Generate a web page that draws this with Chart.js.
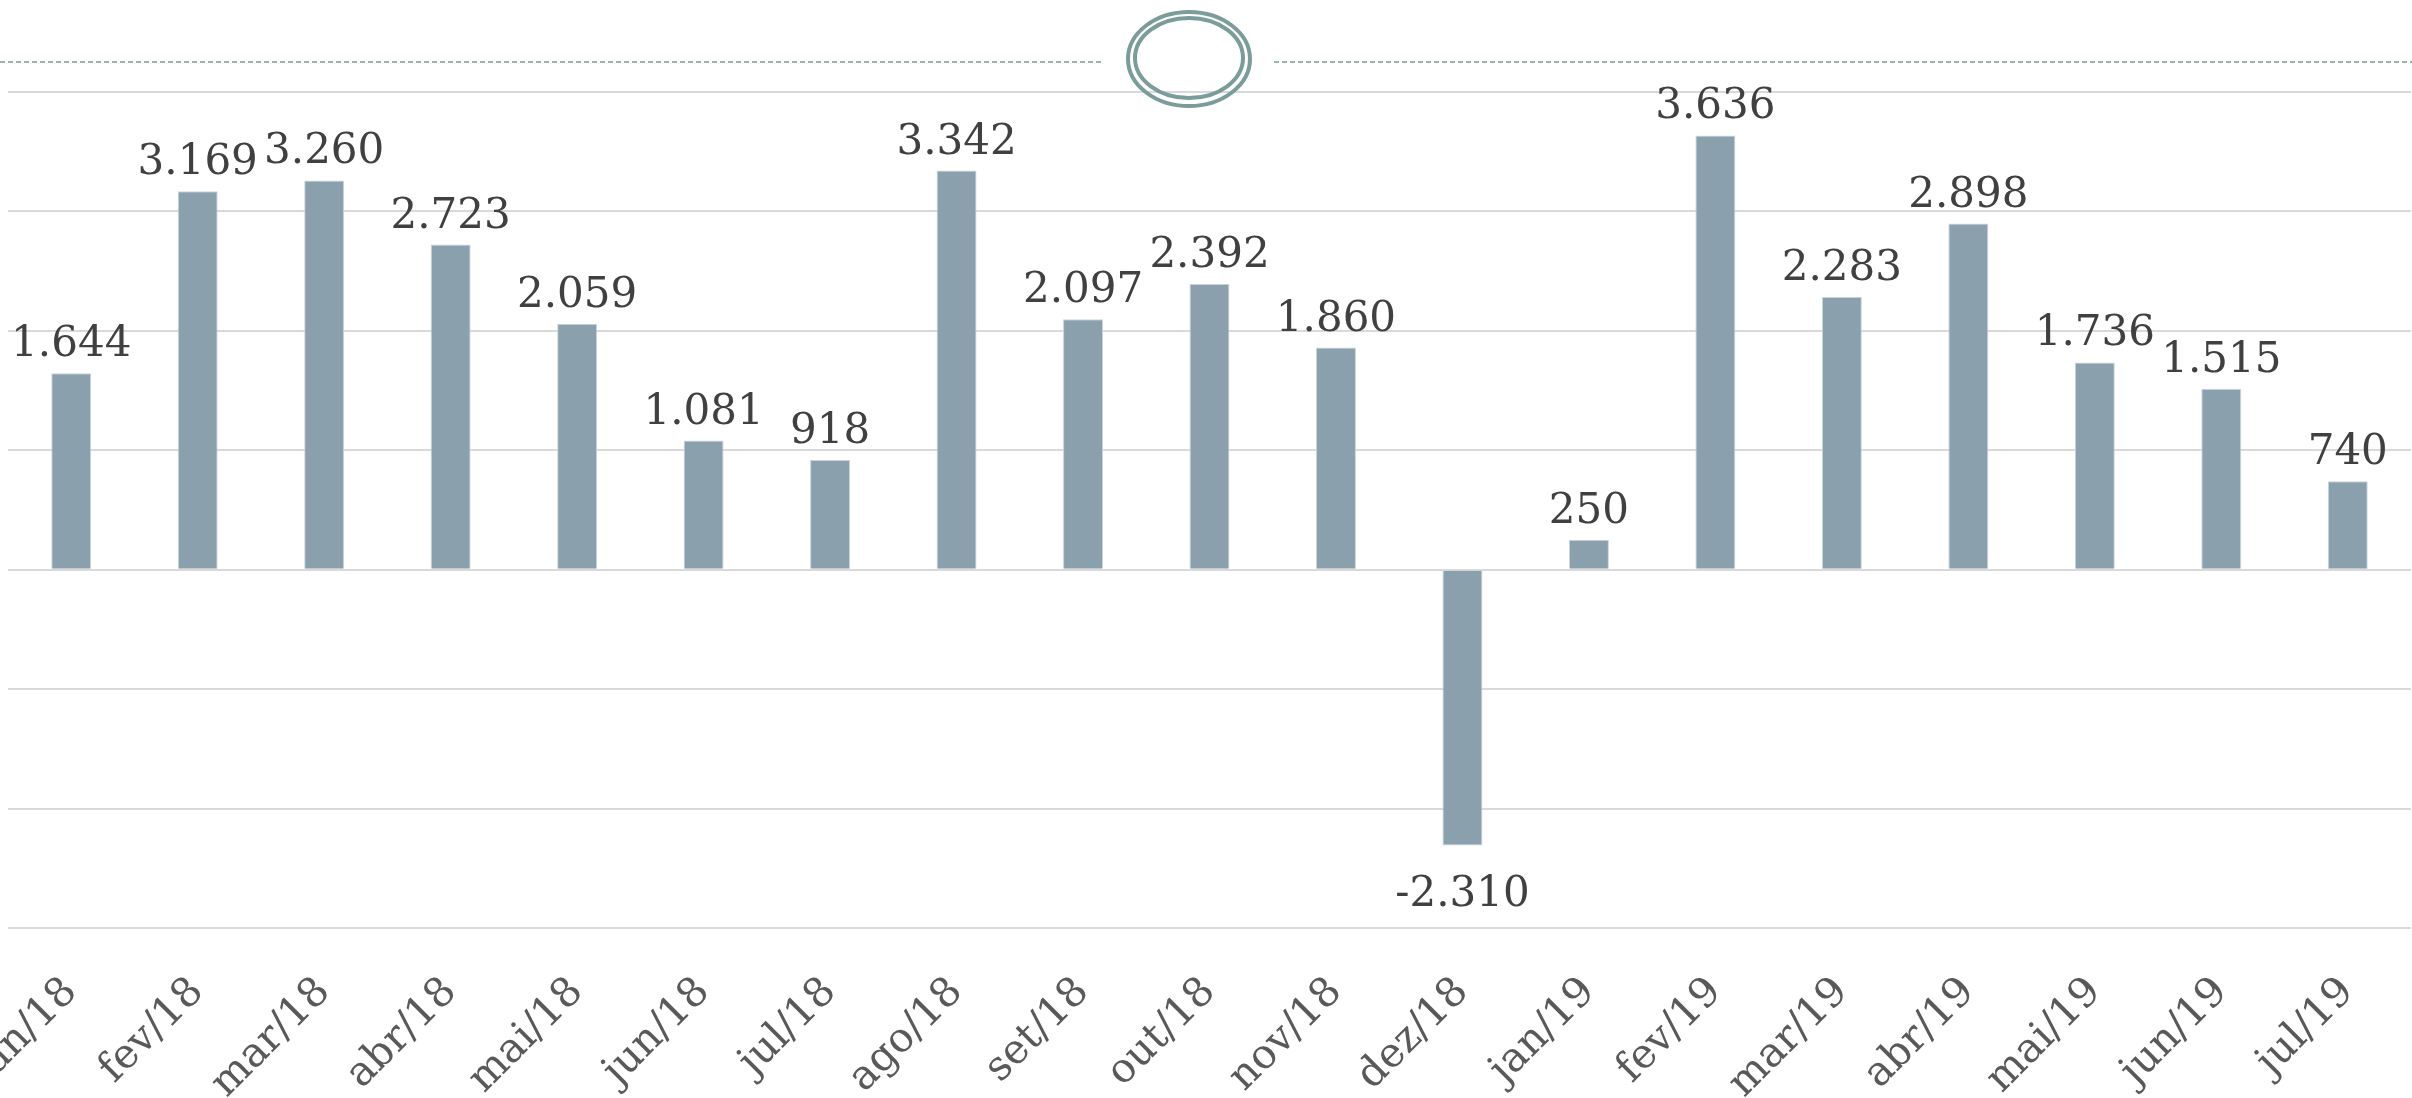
<!DOCTYPE html>
<html>
<head>
<meta charset="utf-8">
<script src="https://cdn.jsdelivr.net/npm/chart.js@4/dist/chart.umd.min.js"></script>
<style>
  html, body { margin: 0; padding: 0; background: #ffffff; }
  #wrap { width: 2412px; height: 1098px; position: relative; }
</style>
</head>
<body>
<div id="wrap"><canvas id="myChart"></canvas></div>
<script>
// months shown on the x axis
var months = ['jan/18', 'fev/18', 'mar/18', 'abr/18', 'mai/18', 'jun/18', 'jul/18', 'ago/18', 'set/18', 'out/18', 'nov/18', 'dez/18',
              'jan/19', 'fev/19', 'mar/19', 'abr/19', 'mai/19', 'jun/19', 'jul/19'];
// monthly balance
var saldo = [1644, 3169, 3260, 2723, 2059, 1081, 918, 3342, 2097, 2392, 1860, -2310,
             250, 3636, 2283, 2898, 1736, 1515, 740];
// hidden y axis range
var yMin = -3000;
var yMax = 4000;
var yStep = 1000;

var serif = "'DejaVu Serif', 'Liberation Serif', serif";

function fmt(v) {
    var s = Math.abs(v).toString().replace(/\B(?=(\d{3})+(?!\d))/g, '.');
    return (v < 0 ? '-' : '') + s;
}

// ---- value labels on top / under each bar ----
var barLabels = {
    id: 'barLabels',
    afterDatasetsDraw: function(chart) {
        var ctx = chart.ctx;
        var meta = chart.getDatasetMeta(0);
        ctx.save();
        ctx.font = '42px ' + serif;
        ctx.fillStyle = '#404040';
        ctx.textAlign = 'center';
        ctx.textBaseline = 'alphabetic';
        meta.data.forEach(function(bar, i) {
            var v = saldo[i];
            if (v >= 0) {
                ctx.fillText(fmt(v), bar.x, bar.y - 17);
            } else {
                ctx.fillText(fmt(v), bar.x, bar.y + 60);
            }
        });
        ctx.restore();
    }
};

// ---- dashed rule with the double ring at the top ----
var topOrnament = {
    id: 'topOrnament',
    afterDraw: function(chart) {
        var ctx = chart.ctx;
        var w = chart.width;
        var cx = 1189, cy = 58;
        ctx.save();
        ctx.strokeStyle = '#7a9c9a';
        ctx.lineWidth = 1.5;
        ctx.setLineDash([5, 3]);
        ctx.beginPath();
        ctx.moveTo(0, 62); ctx.lineTo(1103, 62);
        ctx.moveTo(1274, 62); ctx.lineTo(w, 62);
        ctx.stroke();
        ctx.setLineDash([]);
        ctx.lineWidth = 4;
        ctx.beginPath();
        ctx.ellipse(cx, cy + 1, 61, 47, 0, 0, Math.PI * 2);
        ctx.stroke();
        ctx.beginPath();
        ctx.ellipse(cx, cy, 54, 40, 0, 0, Math.PI * 2);
        ctx.stroke();
        ctx.restore();
    }
};

var ctx = document.getElementById('myChart');
var myChart = new Chart(ctx, {
    type: 'bar',
    data: {
        labels: months,
        datasets: [{
            label: 'saldo',
            data: saldo,
            backgroundColor: '#8aa1ad',
            borderColor: '#c9d4da',
            borderWidth: 1,
            categoryPercentage: 1.0,
            barPercentage: 0.316
        }]
    },
    options: {
        responsive: true,
        maintainAspectRatio: false,
        animation: false,
        devicePixelRatio: 1,
        layout: { padding: { top: 92, left: 8, right: 1, bottom: 0 } },
        plugins: {
            legend: { display: false },
            tooltip: { enabled: false }
        },
        scales: {
            x: {
                grid: { display: false },
                border: { display: false },
                ticks: {
                    autoSkip: false,
                    minRotation: 45,
                    maxRotation: 45,
                    padding: 32,
                    labelOffset: 0,
                    color: '#595959',
                    font: { family: serif, size: 41 }
                },
                afterFit: function(scale) {
                    scale.height = 170;
                    scale.paddingLeft = 0;
                    scale.paddingRight = 0;
                }
            },
            y: {
                min: yMin,
                max: yMax,
                ticks: { display: false, stepSize: yStep },
                grid: { color: '#d9d9d9', lineWidth: 2, drawTicks: false },
                border: { display: false },
                afterFit: function(scale) {
                    scale.width = 0;
                    scale.paddingTop = 0;
                    scale.paddingBottom = 0;
                }
            }
        }
    },
    plugins: [barLabels, topOrnament]
});
</script>
</body>
</html>
